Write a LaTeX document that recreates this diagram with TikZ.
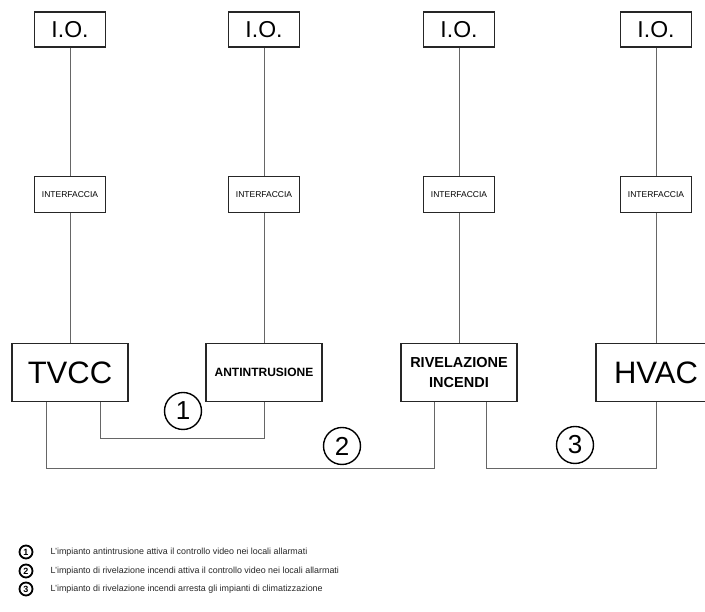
\documentclass[tikz,border=0pt]{standalone}
\usepackage{fontspec}
\setmainfont{Liberation Sans}
\usepackage{tikz}
\usetikzlibrary{positioning}
\tikzset{
	ring/.style={
		circle,
		draw=black,
		line width=1.4pt,
		inner sep=0pt
	}
}

\begin{document}
\begin{tikzpicture}[x=1pt,y=1pt]
			\tikzstyle{box}=[rectangle, draw=black!85, line width=1.3pt, fill=white, inner sep=1pt]
			\tikzstyle{io}=[box, minimum width=71pt, minimum height=35pt, font=\fontsize{23}{25}\selectfont]
			\tikzstyle{iface}=[box, minimum width=71pt, minimum height=36pt, font=\fontsize{8.5}{9}\selectfont]
			\tikzstyle{sys}=[box, minimum width=116pt, minimum height=58pt]
			\tikzstyle{connect}=[draw=black!60, line width=0.9pt]
			\tikzstyle{key}=[ring, minimum size=13pt, line width=1.8pt, font=\fontsize{9}{9}\selectfont\bfseries]
			\tikzstyle{note}=[inner sep=0pt, anchor=west, text=black!85, font=\fontsize{8.9}{9}\selectfont]
			\useasboundingbox (0,0) rectangle (705,612);
			\clip (0,0) rectangle (705,612);

			\node[io] (io1) at (70,582.5) {I.O.};
			\node[io] (io2) at (264,582.5) {I.O.};
			\node[io] (io3) at (459,582.5) {I.O.};
			\node[io] (io4) at (656,582.5) {I.O.};

			\node[iface] (if1) [below=128pt of io1] {INTERFACCIA};
			\node[iface] (if2) [below=128pt of io2] {INTERFACCIA};
			\node[iface] (if3) [below=128pt of io3] {INTERFACCIA};
			\node[iface] (if4) [below=128pt of io4] {INTERFACCIA};

			\node[sys, font=\fontsize{31}{33}\selectfont] (tvcc) [below=130pt of if1] {TVCC};
			\node[sys, font=\fontsize{12}{14}\selectfont\bfseries] (antin) [below=130pt of if2] {ANTINTRUSIONE};
			\node[sys, align=center, font=\fontsize{14.5}{20}\selectfont\bfseries] (riv) [below=130pt of if3] {RIVELAZIONE\\INCENDI};
			\node[sys, minimum width=120pt, font=\fontsize{31}{33}\selectfont] (hvac) [below=130pt of if4] {HVAC};

			\foreach \i/\j in {io1/if1, io2/if2, io3/if3, io4/if4, if1/tvcc, if2/antin, if3/riv, if4/hvac}
				\draw[connect] (\i) -- (\j);

			\draw[connect] ([xshift=30pt]tvcc.south) -- ++(0,-36pt) -| (antin.south);
			\draw[connect] ([xshift=-24pt]tvcc.south) -- ++(0,-66pt) -| ([xshift=-25pt]riv.south);
			\draw[connect] ([xshift=27pt]riv.south) -- ++(0,-66pt) -| (hvac.south);

			\node[ring, minimum size=37pt, font=\fontsize{26}{26}\selectfont] (c1) at (183,201) {1};
			\node[ring, minimum size=37pt, font=\fontsize{26}{26}\selectfont] (c2) at (342,166) {2};
			\node[ring, minimum size=37pt, font=\fontsize{26}{26}\selectfont] (c3) at (575,167) {3};

			\node[key] (k1) at (26,60) {1};
			\node[key] (k2) at (26,41) {2};
			\node[key] (k3) at (26,23) {3};
			\node[note] (t1) [right=17pt of k1] {L'impianto antintrusione attiva il controllo video nei locali allarmati};
			\node[note] (t2) [right=17pt of k2] {L'impianto di rivelazione incendi attiva il controllo video nei locali allarmati};
			\node[note] (t3) [right=17pt of k3] {L'impianto di rivelazione incendi arresta gli impianti di climatizzazione};
\end{tikzpicture}
\end{document}
